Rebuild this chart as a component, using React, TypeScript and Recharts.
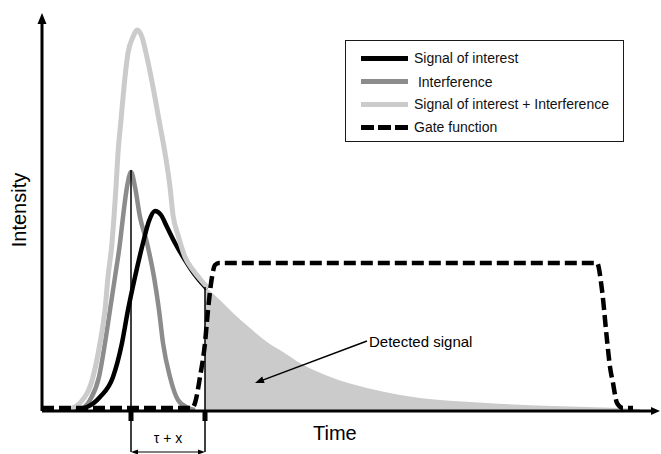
import React from "react";
import {
  ComposedChart,
  Line,
  Area,
  XAxis,
  YAxis,
  ReferenceLine,
  ReferenceDot,
} from "recharts";

const WIDTH = 661;
const HEIGHT = 454;
const FONT = "'Liberation Sans', Arial, Helvetica, sans-serif";

const BLACK = "#000000";
const GRAY = "#8c8c8c";
const LIGHT = "#cbcbcb";

// arbitrary units: time 0..618, intensity 0..398
const T_MAX = 618;
const I_MAX = 398;

const sumTime = [22, 28, 38, 51, 58, 63, 66, 70, 72, 74, 76, 79, 82, 86, 91, 95, 100, 104, 111, 117, 123, 128, 131, 136, 143, 151, 158, 166];
const sumLevel = [1, 2, 8, 34, 68, 101, 134, 168, 194, 224, 258, 291, 324, 358, 374, 381, 374, 358, 324, 291, 258, 224, 196, 176, 154, 141, 132, 123];

const interferenceTime = [38, 48, 57, 63, 68, 73, 78, 81, 85, 89, 93, 98, 105, 112, 117, 121, 128, 136, 146, 153];
const interferenceLevel = [1, 11, 34, 68, 101, 134, 168, 194, 224, 239, 224, 194, 168, 134, 101, 68, 34, 11, 3, 1];

const signalTime = [30, 45, 58, 71, 80, 86, 93, 101, 107, 113, 119, 125, 133, 143, 153, 165];
const signalLevel = [1, 4, 14, 34, 68, 101, 134, 168, 190, 200, 196, 184, 168, 151, 136, 122];

const detectedTime = [163, 178, 191, 208, 225, 241, 258, 291, 325, 358, 378, 445, 511, 578, 598];
const detectedLevel = [124, 111, 98, 83, 69, 59, 48, 33, 23, 16, 13, 8, 5, 3, 2];

const gateTime = [0, 150, 153, 158, 163, 166, 170, 173, 177, 555, 560, 565, 568, 571, 575, 581, 591];
const gateLevel = [3, 3, 8, 34, 68, 101, 134, 146, 148, 148, 121, 71, 44, 28, 8, 3, 3];

const gateOpen = 89;
const gateStart = 163;

const legendLabels = [
  "Signal of interest",
  " Interference",
  "Signal of interest + Interference",
  "Gate function",
];

const rows = (ts: number[], vs: number[]) => ts.map((t, i) => ({ t, v: vs[i] }));

function arrowLine(
  width: number,
  head: number,
  half: number,
  ends: { start?: boolean; end?: boolean },
) {
  return (p: any) => {
    const { x1, y1, x2, y2 } = p;
    const len = Math.hypot(x2 - x1, y2 - y1) || 1;
    const ux = (x2 - x1) / len;
    const uy = (y2 - y1) / len;
    const head_at = (tx: number, ty: number, dx: number, dy: number) => {
      const bx = tx - dx * head;
      const by = ty - dy * head;
      return `${tx},${ty} ${bx - dy * half},${by + dx * half} ${bx + dy * half},${by - dx * half}`;
    };
    const sx = ends.start ? x1 + ux * head * 0.6 : x1;
    const sy = ends.start ? y1 + uy * head * 0.6 : y1;
    const ex = ends.end ? x2 - ux * head * 0.6 : x2;
    const ey = ends.end ? y2 - uy * head * 0.6 : y2;
    return (
      <g>
        <line x1={sx} y1={sy} x2={ex} y2={ey} stroke={BLACK} strokeWidth={width} />
        {ends.end && <polygon points={head_at(x2, y2, ux, uy)} fill={BLACK} />}
        {ends.start && <polygon points={head_at(x1, y1, -ux, -uy)} fill={BLACK} />}
      </g>
    );
  };
}

function textShape(text: string, size: number, anchor: string, rotate = false) {
  return (p: any) => (
    <text
      x={p.cx}
      y={p.cy}
      fontSize={size}
      fontFamily={FONT}
      fill={BLACK}
      textAnchor={anchor}
      dominantBaseline={rotate ? "central" : "auto"}
      transform={rotate ? `rotate(-90 ${p.cx} ${p.cy})` : undefined}
    >
      {text}
    </text>
  );
}

function LegendBox() {
  const centers = [58, 81.5, 104, 127];
  const swatch = [
    { background: BLACK },
    { background: GRAY },
    { background: LIGHT },
    {
      backgroundImage: `repeating-linear-gradient(to right, ${BLACK} 0, ${BLACK} 13px, transparent 13px, transparent 17px)`,
    },
  ];
  return (
    <div style={{ position: "absolute", left: 0, top: 0, width: WIDTH, height: HEIGHT, pointerEvents: "none" }}>
      <div
        style={{
          position: "absolute",
          left: 345,
          top: 40,
          width: 279,
          height: 102,
          boxSizing: "border-box",
          border: "1.5px solid #1a1a1a",
          background: "#fff",
        }}
      />
      {legendLabels.map((label, i) => (
        <React.Fragment key={label}>
          <div
            style={{
              position: "absolute",
              left: 361,
              top: centers[i] - 2.5,
              width: 47,
              height: 5,
              ...swatch[i],
            }}
          />
          <span
            style={{
              position: "absolute",
              left: 414,
              top: centers[i] - 8,
              lineHeight: "16px",
              fontSize: 14,
              fontFamily: FONT,
              whiteSpace: "pre",
              color: "#111",
            }}
          >
            {label}
          </span>
        </React.Fragment>
      ))}
    </div>
  );
}

export default function App() {
  return (
    <div style={{ position: "absolute", left: 0, top: 0, width: WIDTH, height: HEIGHT, background: "#fff" }}>
      <ComposedChart
        width={WIDTH}
        height={HEIGHT}
        margin={{ top: 13, right: 1, bottom: 43, left: 42 }}
      >
        <XAxis dataKey="t" type="number" domain={[0, T_MAX]} hide allowDataOverflow />
        <YAxis type="number" domain={[0, I_MAX]} hide allowDataOverflow />

        <Area
          data={rows(detectedTime, detectedLevel)}
          dataKey="v"
          type="monotone"
          fill={LIGHT}
          fillOpacity={1}
          stroke="none"
          isAnimationActive={false}
          dot={false}
          activeDot={false}
        />
        <Line
          data={rows(interferenceTime, interferenceLevel)}
          dataKey="v"
          type="monotone"
          stroke={GRAY}
          strokeWidth={4.5}
          dot={false}
          activeDot={false}
          isAnimationActive={false}
        />
        <Line
          data={rows(signalTime, signalLevel)}
          dataKey="v"
          type="monotone"
          stroke={BLACK}
          strokeWidth={4.5}
          dot={false}
          activeDot={false}
          isAnimationActive={false}
        />
        <Line
          data={rows(sumTime, sumLevel)}
          dataKey="v"
          type="monotone"
          stroke={LIGHT}
          strokeWidth={5}
          dot={false}
          activeDot={false}
          isAnimationActive={false}
        />
        <Line
          data={rows(gateTime, gateLevel)}
          dataKey="v"
          type="monotone"
          stroke={BLACK}
          strokeWidth={4.5}
          strokeDasharray="12 5"
          dot={false}
          activeDot={false}
          isAnimationActive={false}
        />

        {/* axes with arrow heads */}
        <ReferenceLine
          segment={[{ x: 0, y: 0 }, { x: 0, y: I_MAX }]}
          ifOverflow="visible"
          shape={arrowLine(3, 11, 4.5, { end: true })}
        />
        <ReferenceLine
          segment={[{ x: 0, y: 0 }, { x: T_MAX, y: 0 }]}
          ifOverflow="visible"
          shape={arrowLine(3, 9, 4, { end: true })}
        />

        {/* gate timing markers */}
        <ReferenceLine
          segment={[{ x: gateOpen, y: 241 }, { x: gateOpen, y: -41 }]}
          ifOverflow="visible"
          stroke={BLACK}
          strokeWidth={1.5}
        />
        <ReferenceLine
          segment={[{ x: gateStart, y: 124 }, { x: gateStart, y: -41 }]}
          ifOverflow="visible"
          stroke={BLACK}
          strokeWidth={1.5}
        />
        <ReferenceLine
          segment={[{ x: gateOpen, y: 1 }, { x: gateOpen, y: -10 }]}
          ifOverflow="visible"
          stroke={BLACK}
          strokeWidth={5}
        />
        <ReferenceLine
          segment={[{ x: gateStart, y: 1 }, { x: gateStart, y: -10 }]}
          ifOverflow="visible"
          stroke={BLACK}
          strokeWidth={5}
        />
        <ReferenceLine
          segment={[{ x: gateOpen, y: -41 }, { x: gateStart, y: -41 }]}
          ifOverflow="visible"
          shape={arrowLine(1.2, 7, 2.5, { start: true, end: true })}
        />
        <ReferenceLine
          segment={[{ x: 325, y: 70 }, { x: 213, y: 28 }]}
          ifOverflow="visible"
          shape={arrowLine(1.5, 9, 3.5, { end: true })}
        />

        {/* labels */}
        <ReferenceDot x={-23} y={201} ifOverflow="visible" shape={textShape("Intensity", 20, "middle", true)} />
        <ReferenceDot x={271} y={-29} ifOverflow="visible" shape={textShape("Time", 20, "start")} />
        <ReferenceDot x={327} y={64} ifOverflow="visible" shape={textShape("Detected signal", 15, "start")} />
        <ReferenceDot x={126} y={-32} ifOverflow="visible" shape={textShape("τ + x", 14, "middle")} />
      </ComposedChart>
      <LegendBox />
    </div>
  );
}
